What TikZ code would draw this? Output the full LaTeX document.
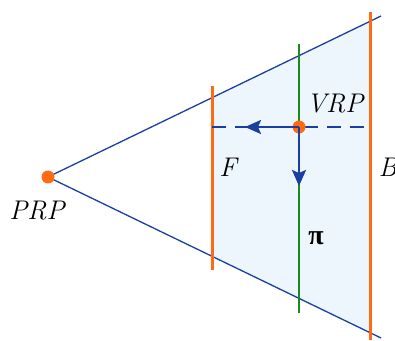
\documentclass[tikz,border=0pt]{standalone}
\usepackage{fontspec}
\newfontfamily\pifont{Liberation Serif}
\usepackage{tikz}
\usetikzlibrary{arrows.meta, calc}
\definecolor{viewblue}{HTML}{1A3FA0}
\definecolor{vieworange}{HTML}{FF6A13}
\definecolor{viewgreen}{HTML}{1A8A1A}
\definecolor{viewfill}{HTML}{EEF6FD}

\begin{document}
\begin{tikzpicture}[
  x=1pt, y=-1pt,
  ray/.style={draw=viewblue, line width=1.3pt},
  plane/.style={draw=vieworange, line width=3pt},
  projplane/.style={draw=viewgreen, line width=2.4pt},
  axis/.style={draw=viewblue, line width=2.4pt, -{Stealth[length=16pt, width=14pt, inset=3pt]}},
  refpoint/.style={circle, fill=vieworange, inner sep=0pt, minimum size=13pt},
  lbl/.style={font=\fontsize{27}{30}\selectfont\itshape, inner sep=0pt}
]
\useasboundingbox (0,0) rectangle (395,340);
% eye and frustum
\coordinate (prp) at (48,177);
\coordinate (raytop) at (381,16);
\coordinate (raybot) at (381,338);
\coordinate (ftop) at ($(prp)!0.4925!(raytop)$);
\coordinate (fbot) at ($(prp)!0.4925!(raybot)$);
\coordinate (btop) at ($(prp)!0.9670!(raytop)$);
\coordinate (bbot) at ($(prp)!0.9670!(raybot)$);
\fill[viewfill] (ftop) -- (btop) -- (bbot) -- (fbot) -- cycle;
\draw[ray] (prp) -- (raytop);
\draw[ray] (prp) -- (raybot);
% planes
\coordinate (f1) at (212,86);  \coordinate (f2) at (212,270);
\coordinate (b1) at (370,12);  \coordinate (b2) at (370,340);
\coordinate (p1) at (299,44);  \coordinate (p2) at (299,313);
\draw[plane] (f1) -- (f2);
\draw[plane] (b1) -- (b2);
\draw[projplane] (p1) -- (p2);
% view reference point
\coordinate (fmid) at (212,127);
\coordinate (bmid) at (370,127);
\draw[draw=viewblue, line width=2.4pt, dash pattern=on 14pt off 9pt] (fmid) -- (bmid);
\node[refpoint] (vrp) at (299,127) {};
\coordinate (vpn) at (245,127);
\coordinate (vup) at (299,186);
\draw[axis] (vrp.center) -- (vpn);
\draw[axis] (vrp.center) -- (vup);
\node[refpoint] (eye) at (prp) {};
% labels
\node[lbl] (vrplbl) at (335,104) {VRP};
\node[lbl] (flbl) at (228,167) {F};
\node[lbl] (blbl) at (388,167) {B};
\node[lbl] (prplbl) at (37,211) {PRP};
\node[lbl, font=\fontsize{28}{30}\selectfont\pifont\bfseries] (pilbl) at (316,238) {π};
\end{tikzpicture}
\end{document}
